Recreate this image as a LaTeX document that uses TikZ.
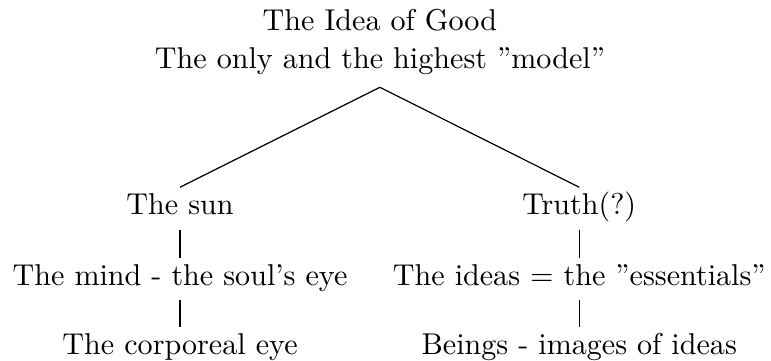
\documentclass[tikz,border=0pt]{standalone}
\usetikzlibrary{positioning}

\begin{document}
\begin{tikzpicture}[
    node distance=0.33cm,
    item/.style={inner xsep=0pt, inner ysep=2pt, text height=7pt, text depth=2.7pt},
    top/.style={align=center, inner sep=4pt},
    link/.style={draw, line width=0.4pt}
]
\useasboundingbox (0,0) rectangle (256.1pt,-119.9pt);

% Root
\node[top] (good) at (126.2pt,-14pt) {The Idea of Good\\[0.5pt]The only and the highest ''model''};

% Left branch
\node[item, anchor=base] (sun) at (59.8pt,-71.4pt) {The sun};
\node[item, below=of sun] (mind) {The mind - the soul's eye};
\node[item, below=0.31cm of mind] (eye) {The corporeal eye};

% Right branch
\node[item, anchor=base] (truth) at (192.4pt,-71.4pt) {Truth(?)};
\node[item, below=of truth] (ideas) {The ideas = the ''essentials''};
\node[item, below=0.31cm of ideas] (beings) {Beings - images of ideas};

% Links
\draw[link] (good.south) -- (sun.north);
\draw[link] (good.south) -- (truth.north);
\draw[link] (sun) -- (mind);
\draw[link] (mind) -- (eye);
\draw[link] (truth) -- (ideas);
\draw[link] (ideas) -- (beings);

\end{tikzpicture}
\end{document}
